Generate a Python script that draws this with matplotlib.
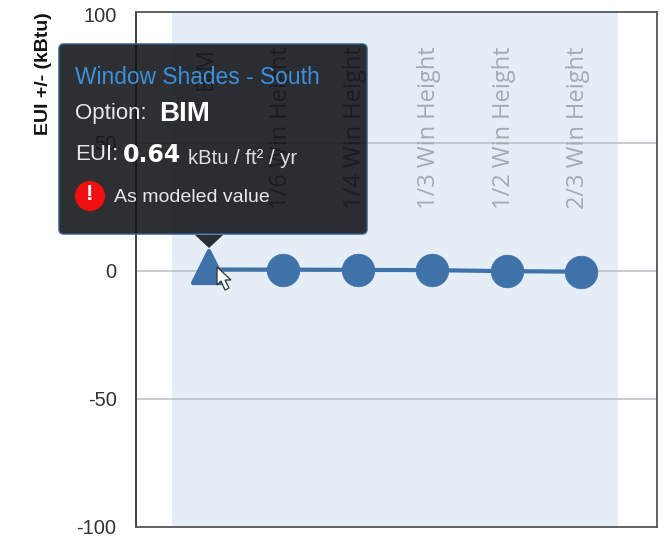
import matplotlib
matplotlib.use("Agg")
import matplotlib.pyplot as plt
from matplotlib.patches import FancyBboxPatch, Polygon, Circle
from matplotlib.markers import MarkerStyle
from matplotlib.transforms import ScaledTranslation

W, H = 667, 545
categories = ["BIM", "1/6 Win Height", "1/4 Win Height", "1/3 Win Height", "1/2 Win Height", "2/3 Win Height"]
values = [0.64, 0.6, 0.5, 0.4, 0.0, -0.2]
yticks = [-100, -50, 0, 50, 100]
title_tip = "Window Shades - South"
option_label, option_value = "Option:", "BIM"
eui_label, eui_value, eui_unit = "EUI:", "0.64", "kBtu / ft² / yr"
note = "As modeled value"

BLUE = "#3f72a8"
plt.rcParams["axes.unicode_minus"] = False
fig = plt.figure(figsize=(W / 100, H / 100), dpi=100, facecolor="white")
L, R, T, B = 136, 657, 12, 527
ax = fig.add_axes([L / W, 1 - B / H, (R - L) / W, (B - T) / H])
ax.set_xlim(-0.98, 6.02)
ax.set_ylim(-99.6, 101.3)
ax.axvspan(-0.5, 5.5, color="#e5edf6", lw=0, zorder=0)
ax.set_yticks(yticks)
ax.tick_params(axis="y", length=0, pad=14, labelsize=14.5, labelcolor="#333333")
ax.set_xticks([])
for lab, tick in zip(ax.get_yticklabels(), yticks):
    lab.set_family("Liberation Sans")
    lab.set_transform(lab.get_transform() + ScaledTranslation(0, 0.3 / 72, fig.dpi_scale_trans))
    if tick == 50:
        lab.set_color("#555555")
for y in yticks[1:-1]:
    ax.axhline(y, color="#b9bec4", lw=1.1, zorder=1)
for s in ax.spines.values():
    s.set_color("#555555")
    s.set_linewidth(1.3)
ax.spines["left"].set_color("#333333")

for i, c in enumerate(categories):
    ax.annotate(c, (i, 1), xycoords=("data", "axes fraction"), xytext=(-2, -25), textcoords="offset points",
                rotation=90, ha="center", va="top", color="#666666" if i < 3 else "#a6abb1", fontsize=17,
                family="Open Sans", zorder=2)

xs = list(range(len(values)))
ax.plot(xs, values, color=BLUE, lw=3, zorder=3, solid_capstyle="round")
ax.plot(xs[0], values[0] + 1.0, marker=MarkerStyle("^", joinstyle="round"), ms=23, mec=BLUE, mew=3, mfc=BLUE, ls="none", zorder=4)
ax.plot(xs[1:], values[1:], marker="o", ms=23.5, color=BLUE, mew=0.5, ls="none", zorder=4)

ax.text((44 - L) / (R - L), 1 - (74 - T) / (B - T), "EUI +/- (kBtu)", transform=ax.transAxes, rotation=90,
        ha="center", va="center", fontsize=14, fontweight="bold", family="Liberation Sans", color="#111111")

# overlay in pixel coordinates for the tooltip furniture
ov = fig.add_axes([0, 0, 1, 1], zorder=5)
ov.set_xlim(0, W)
ov.set_ylim(H, 0)
ov.axis("off")
DARK = "#101216"
ov.add_patch(FancyBboxPatch((59, 44), 308, 190, boxstyle="round,pad=0,rounding_size=5",
                            fc=DARK, ec="#2f5c8a", lw=1.2, alpha=0.88, zorder=1))
ov.add_patch(Polygon([(195, 235), (223, 235), (209, 248)], closed=True, fc="#2a2d32", ec="none", zorder=2))

ov.text(75, 78, title_tip, color="#3d8fdc", fontsize=16.4, family="Liberation Sans", va="center", zorder=3)
ov.text(75, 114, option_label, color="#e8e8e8", fontsize=16, family="Liberation Sans", va="center", zorder=3)
ov.text(159, 114, option_value, color="white", fontsize=20, family="Liberation Sans", fontweight="bold", va="center", zorder=3)
ov.text(75, 155, eui_label, color="#e8e8e8", fontsize=16, family="Liberation Sans", va="center", zorder=3)
ov.text(123, 155, eui_value, color="white", fontsize=17, family="DejaVu Sans", fontweight="bold", va="center", zorder=3)
ov.text(188, 158, eui_unit, color="#e0e0e0", fontsize=14.6, family="Liberation Sans", va="center", zorder=3)
ov.add_patch(Circle((90, 196), 15, fc="#f01010", ec="none", zorder=3))
ov.text(90, 195, "!", color="white", fontsize=16, fontweight="bold", family="Liberation Sans", ha="center", va="center", zorder=4)
ov.text(114, 197, note, color="#e8e8e8", fontsize=14, family="Liberation Sans", va="center", zorder=3)

# mouse cursor
ov.add_patch(Polygon([(217, 267), (217, 285), (221, 281), (225, 290), (229, 288), (225, 280), (231, 280)],
                     closed=True, fc="white", ec="#333333", lw=0.9, zorder=6))

fig.savefig("out.png", dpi=100)
